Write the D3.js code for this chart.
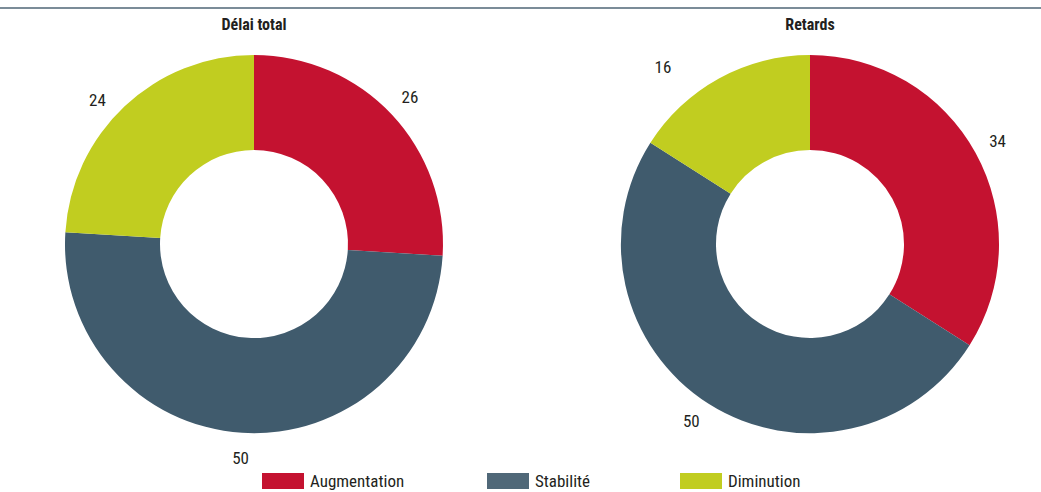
<!DOCTYPE html>
<html>
<head>
<meta charset="utf-8">
<script src="https://cdn.jsdelivr.net/npm/d3@7"></script>
<style>
  body { margin: 0; background: #fff; }
  text { font-family: "Liberation Sans Narrow", "Roboto Condensed", "Liberation Sans", sans-serif; fill: #231f20; }
</style>
</head>
<body>
<svg width="1041" height="492"></svg>
<script>
const categories = ["Augmentation", "Stabilité", "Diminution"];
const chartTitles = ["Délai total", "Retards"];
const delaiValues = [26, 50, 24];
const retardsValues = [34, 50, 16];

const width = 1041, height = 492;
const colors = d3.scaleOrdinal(categories, ["#c41230", "#405b6d", "#c1cd20"]);
const legendColors = d3.scaleOrdinal(categories, ["#c41230", "#506878", "#c1cd20"]);

const svg = d3.select("svg");

// cut-off header line at the top
svg.append("line")
  .attr("x1", 0).attr("x2", width)
  .attr("y1", 8).attr("y2", 8)
  .attr("stroke", "#7b8c98").attr("stroke-width", 2);

const outerR = 189, innerR = 94, labelR = 214;
const centers = d3.scalePoint(chartTitles, [254, 810]);
const cy = 244;

const pie = d3.pie().sort(null);
const arc = d3.arc().innerRadius(innerR).outerRadius(outerR);
const labelArc = d3.arc().innerRadius(labelR).outerRadius(labelR);

// small hand nudges so the labels sit where the original puts them
const nudge = {
  "Délai total|Diminution": [-10, 12],
  "Retards|Diminution": [-44, 11],
  "Retards|Stabilité": [-4, -4]
};

function donut(title, values) {
  const g = svg.append("g").attr("transform", `translate(${centers(title)},${cy})`);
  const arcs = pie(values);

  g.selectAll("path")
    .data(arcs)
    .join("path")
      .attr("d", arc)
      .attr("fill", (d, i) => colors(categories[i]));

  g.selectAll("text.val")
    .data(arcs)
    .join("text")
      .attr("class", "val")
      .attr("transform", (d, i) => {
        const [x, y] = labelArc.centroid(d);
        const n = nudge[title + "|" + categories[i]] || [0, 0];
        return `translate(${x + n[0]},${y + n[1]})`;
      })
      .attr("text-anchor", "middle")
      .attr("dy", "0.35em")
      .style("font-size", "17px")
      .text(d => d.data);

  svg.append("text")
    .attr("x", centers(title)).attr("y", 30)
    .attr("text-anchor", "middle")
    .style("font-size", "16px")
    .style("font-weight", "bold")
    .text(title);
}

donut(chartTitles[0], delaiValues);
donut(chartTitles[1], retardsValues);

// legend
const legendX = d3.scaleOrdinal(categories, [262, 487, 680]);
const leg = svg.append("g").selectAll("g")
  .data(categories)
  .join("g")
    .attr("transform", d => `translate(${legendX(d)},473)`);
leg.append("rect")
  .attr("width", 42).attr("height", 16)
  .attr("fill", d => legendColors(d));
leg.append("text")
  .attr("x", 48).attr("y", 8).attr("dy", "0.35em")
  .style("font-size", "17px")
  .text(d => d);
</script>
</body>
</html>
